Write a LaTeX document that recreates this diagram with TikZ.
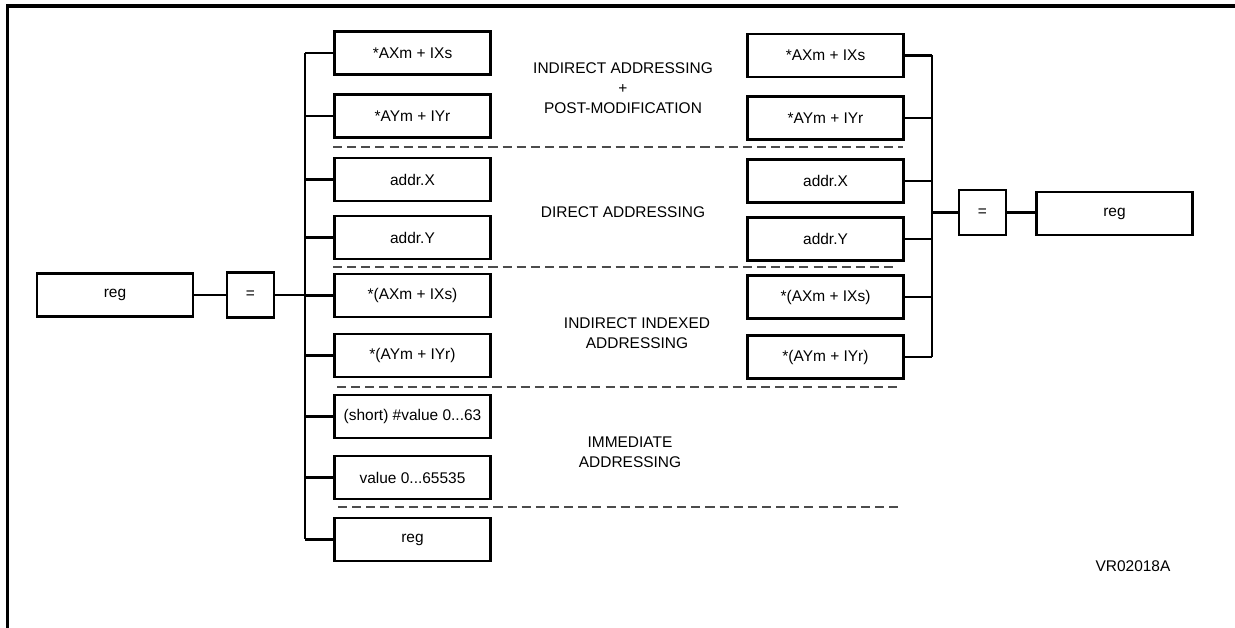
\documentclass[tikz,border=0pt]{standalone}
\usepackage{fontspec}
\setmainfont{Liberation Sans}
\tikzset{
  px/.style={x=0.75pt,y=-0.75pt},
  txt/.style={font=\fontsize{11.6}{15}\selectfont},
  box/.style={txt, draw, line width=1.9pt, minimum width=117pt, minimum height=32pt, inner sep=0pt},
  eqbox/.style={txt, draw, line width=1.9pt, minimum width=35.5pt, minimum height=33.5pt, inner sep=0pt},
  wire/.style={line width=1.8pt},
  sep/.style={line width=1.1pt, draw=black!70, dash pattern=on 6.8pt off 3.8pt},
  frame/.style={line width=2.4pt},
  lbl/.style={txt, align=center}
}
\begin{document}
\begin{tikzpicture}[px]
\useasboundingbox (0,0) rectangle (1235,628);
% frame
\draw[frame] (7.5,628) -- (7.5,6) -- (1235,6);

% left side
\node[box] (regL) at (115,295) {reg};
\node[eqbox] (eqL) at (250.5,295) {=};
\coordinate (lbt) at (305,53);
\coordinate (lbb) at (305,539);

\node[box] (L1) at (412.5,53) {*AXm + IXs};
\node[box] (L2) at (412.5,116) {*AYm + IYr};
\node[box] (L3) at (412.5,179.5) {addr.X};
\node[box] (L4) at (412.5,237.5) {addr.Y};
\node[box] (L5) at (412.5,295.5) {*(AXm + IXs)};
\node[box] (L6) at (412.5,355.5) {*(AYm + IYr)};
\node[box] (L7) at (412.5,416.5) {(short) \#value 0...63};
\node[box] (L8) at (412.5,477.5) {value 0...65535};
\node[box] (L9) at (412.5,539.5) {reg};

\draw[wire] (regL.east) -- (eqL.west);
\draw[wire] (eqL.east) -- (eqL.east -| lbt);
\draw[wire] (lbt) -- (lbb);
\foreach \n in {L1,L2,L3,L4,L5,L6,L7,L8,L9}
  \draw[wire] (\n.west) -- (\n.west -| lbt);

% right side
\coordinate (rbt) at (932,55);
\coordinate (rbb) at (932,357);
\node[box] (R1) at (825.5,55.5) {*AXm + IXs};
\node[box] (R2) at (825.5,118) {*AYm + IYr};
\node[box] (R3) at (825.5,181) {addr.X};
\node[box] (R4) at (825.5,239) {addr.Y};
\node[box] (R5) at (825.5,297) {*(AXm + IXs)};
\node[box] (R6) at (825.5,357) {*(AYm + IYr)};
\node[eqbox] (eqR) at (982.5,212.5) {=};
\node[box] (regR) at (1114.5,213.5) {reg};

\draw[wire] (rbt) -- (rbb);
\foreach \n in {R1,R2,R3,R4,R5,R6}
  \draw[wire] (\n.east) -- (\n.east -| rbt);
\draw[wire] (eqR.west) -- (eqR.west -| rbt);
\draw[wire] (eqR.east) -- (eqR.east -| regR.west);

% separators
\coordinate (s1a) at (333,147); \coordinate (s1b) at (903,147);
\coordinate (s2a) at (333,267); \coordinate (s2b) at (898,267);
\coordinate (s3a) at (337,387); \coordinate (s3b) at (898,387);
\coordinate (s4a) at (338,507); \coordinate (s4b) at (898,507);
\draw[sep] (s1a) -- (s1b);
\draw[sep] (s2a) -- (s2b);
\draw[sep] (s3a) -- (s3b);
\draw[sep] (s4a) -- (s4b);

% section labels
\node[lbl] (t1) at (623,88) {INDIRECT ADDRESSING\\+\\POST-MODIFICATION};
\node[lbl] (t2) at (623,212) {DIRECT ADDRESSING};
\node[lbl] (t3) at (637,333) {INDIRECT INDEXED\\ADDRESSING};
\node[lbl] (t4) at (630,452) {IMMEDIATE\\ADDRESSING};
\node[txt] (code) at (1133,566) {VR02018A};
\end{tikzpicture}
\end{document}
